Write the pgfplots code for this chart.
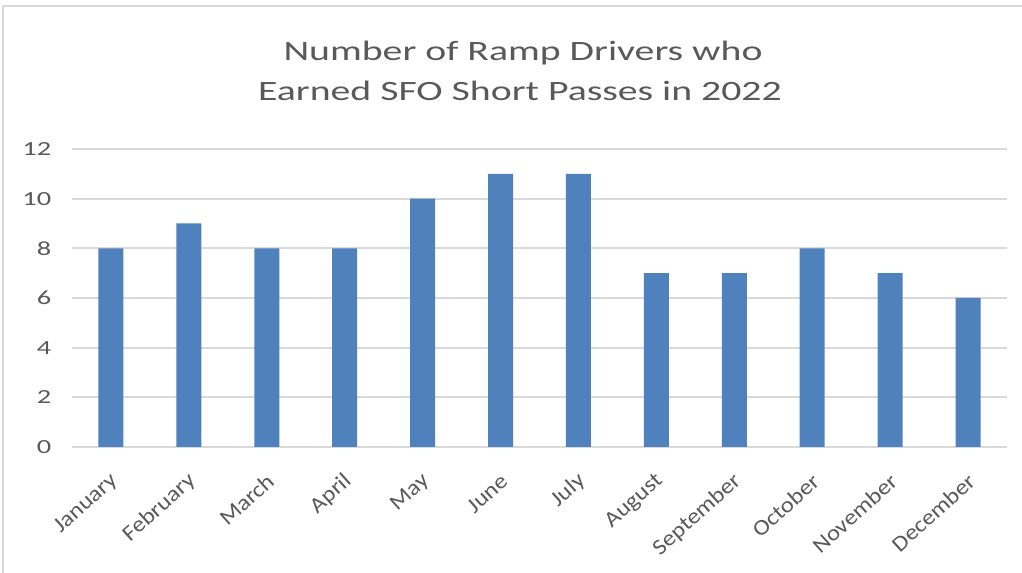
\documentclass[border=0pt]{standalone}
\usepackage{fontspec}
\setmainfont{Carlito}
\newfontfamily\widefont{Carlito}[FakeStretch=1.42]
\newfontfamily\labelfont{Carlito}[FakeStretch=1.12]
\usepackage{pgfplots}
\pgfplotsset{compat=1.18}
\definecolor{barblue}{HTML}{4F81BD}
\definecolor{txtgray}{HTML}{595959}
\definecolor{gridgray}{HTML}{D9D9D9}

\begin{document}
\begin{tikzpicture}[x=0.75pt,y=0.75pt]
% canvas of the reference, in pixels
\path[use as bounding box] (0,0) rectangle (1022,573);
\draw[gridgray, line width=1.5pt] (3,0) -- (3,567) -- (1022,567);

\node[txtgray, font=\widefont\fontsize{21}{25}\selectfont, anchor=base] at (523,512) {Number of Ramp Drivers who};
\node[txtgray, font=\widefont\fontsize{21}{25}\selectfont, anchor=base] at (520,472) {Earned SFO Short Passes in 2022};

\begin{axis}[
    at={(54pt,94.5pt)},
    anchor=south west,
    scale only axis,
    width=701.25pt,
    height=223.5pt,
    xmin=-0.5, xmax=11.5,
    ymin=0, ymax=12,
    ytick={0,2,...,12},
    xtick={0,...,11},
    xticklabels={January,February,March,April,May,June,July,August,September,October,November,December},
    major tick length=0pt,
    axis line style={draw=none},
    ymajorgrids=true,
    grid style={gridgray, line width=1.4pt},
    tick label style={txtgray},
    /pgf/number format/assume math mode=true,
    yticklabel style={font=\widefont\fontsize{15}{18}\selectfont, anchor=east, xshift=-12pt},
    xticklabel style={font=\labelfont\fontsize{16.5}{19}\selectfont, xshift=5.4pt, yshift=-21pt, rotate=42, anchor=east},
    ybar,
    bar width=0.32,
    bar shift=0pt,
]
\addplot[fill=barblue, draw=none] coordinates {
    (0,8) (1,9) (2,8) (3,8) (4,10) (5,11)
    (6,11) (7,7) (8,7) (9,8) (10,7) (11,6)
};
\end{axis}
\end{tikzpicture}
\end{document}
